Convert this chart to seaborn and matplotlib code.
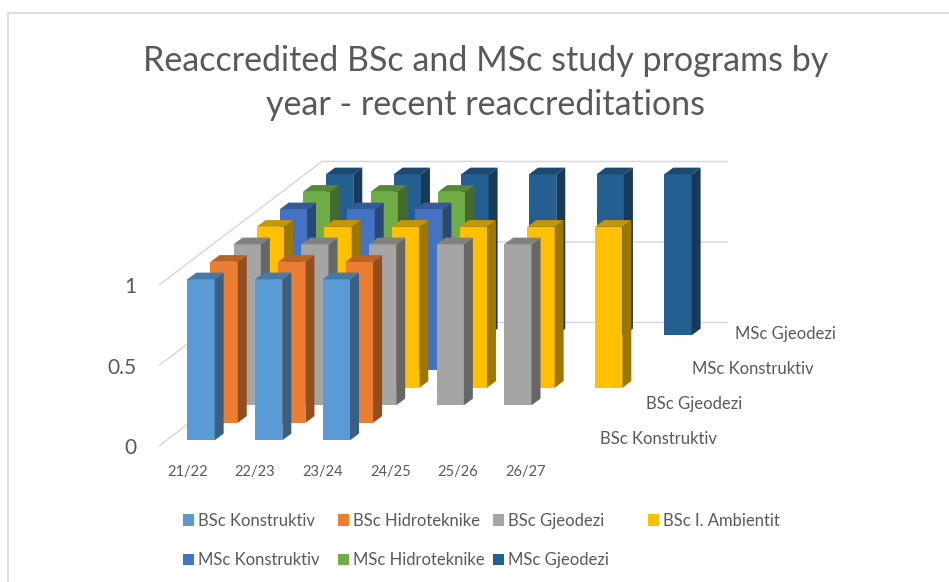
import numpy as np
import pandas as pd
import matplotlib
matplotlib.use("Agg")
import matplotlib.pyplot as plt
from matplotlib.lines import Line2D
from matplotlib.patches import Polygon, Patch
import seaborn as sns

# ---- data ----
title = "Reaccredited BSc and MSc study programs by\nyear - recent reaccreditations"
years = ["21/22", "22/23", "23/24", "24/25", "25/26", "26/27"]
nan = float("nan")
bsc_konstruktiv = [1, 1, 1, nan, nan, nan]
bsc_hidroteknike = [1, 1, 1, nan, nan, nan]
bsc_gjeodezi = [1, 1, 1, 1, 1, nan]
bsc_ambientit = [1, 1, 1, 1, 1, 1]
msc_konstruktiv = [1, 1, 1, nan, nan, nan]
msc_hidroteknike = [1, 1, 1, nan, nan, nan]
msc_gjeodezi = [1, 1, 1, 1, 1, 1]
series_names = ["BSc Konstruktiv", "BSc Hidroteknike", "BSc Gjeodezi", "BSc I. Ambientit",
                "MSc Konstruktiv", "MSc Hidroteknike", "MSc Gjeodezi"]
series_values = [bsc_konstruktiv, bsc_hidroteknike, bsc_gjeodezi, bsc_ambientit,
                 msc_konstruktiv, msc_hidroteknike, msc_gjeodezi]
colors = ["#5B9BD5", "#ED7D31", "#A5A5A5", "#FFC000", "#4472C4", "#70AD47", "#255E91"]
yticks = [0, 0.5, 1]

# ---- geometry (pixels of the 949x582 canvas) ----
W, H = 949, 582
PX_X, PX_Y = 67.67, 161.0        # pixels per category / per unit value
DEPTH_X, DEPTH_Y = 23.1, 17.5    # oblique shift per series row
Y0 = 446.0                       # value 0 at the front floor edge
X0 = 159.0                       # front floor corner
BAR_W, SIDE_X, SIDE_Y = 27.3, 9.0, 6.7
LEFT = 142.0
GAP = 0.325                      # floor margin before the first row
BACK = 7.06                      # floor depth in rows
CENTER0 = 201.0                  # centre of first bar, first row

def shade(c, f):
    return tuple(v * f for v in matplotlib.colors.to_rgb(c))

def ox(depth):
    return (depth - GAP) * DEPTH_X / PX_X

def oy(depth):
    return depth * DEPTH_Y / PX_Y

sns.set_theme(style="white")
plt.rcParams["font.family"] = ["Lato", "DejaVu Sans"]
TXT = "#595959"
GRID = "#D9D9D9"

fig = plt.figure(figsize=(W / 100, H / 100), dpi=100)
ax = fig.add_axes([LEFT / W, 0, 1 - LEFT / W, 1])
ax.patch.set_alpha(0)

dx = SIDE_X / PX_X
dy = SIDE_Y / PX_Y

# walls: x in category units measured from CENTER0, y in value units
fx = (X0 - CENTER0) / PX_X
for v in yticks:
    xs = [fx, fx + BACK * DEPTH_X / PX_X, (727.7 - CENTER0) / PX_X]
    ys = [v, v + BACK * DEPTH_Y / PX_Y, v + BACK * DEPTH_Y / PX_Y]
    ax.plot(xs, ys, color=GRID, lw=1.1, zorder=0.5, solid_capstyle="butt")

# rows from back to front
for s in range(len(series_names) - 1, -1, -1):
    depth = s + GAP
    df = pd.DataFrame({"pos": np.arange(len(years)) + ox(depth),
                       "value": series_values[s]}).dropna()
    n_before = len(ax.containers)
    sns.barplot(data=df, x="pos", y="value", native_scale=True, color=colors[s],
                saturation=1, width=BAR_W / PX_X, errorbar=None, ax=ax,
                bottom=oy(depth), linewidth=0)
    for rect in list(ax.containers[n_before]):
        x0, y0 = rect.get_x(), rect.get_y()
        w, h = rect.get_width(), rect.get_height()
        x1, y1 = x0 + w, y0 + h
        ax.add_patch(Polygon([(x1, y0), (x1 + dx, y0 + dy), (x1 + dx, y1 + dy), (x1, y1)],
                             closed=True, fc=shade(colors[s], 0.62), lw=0))
        ax.add_patch(Polygon([(x0, y1), (x1, y1), (x1 + dx, y1 + dy), (x0 + dx, y1 + dy)],
                             closed=True, fc=shade(colors[s], 0.78), lw=0))

ax.set_xlim((LEFT - CENTER0) / PX_X, (W - CENTER0) / PX_X)
ax.set_ylim((Y0 - H) / PX_Y, Y0 / PX_Y)
ax.set_xlabel("")
ax.set_ylabel("")
for name, sp in ax.spines.items():
    sp.set_visible(False)

ax.set_yticks(yticks, ["0", "0.5", "1"])
ax.tick_params(axis="y", length=0, pad=4, labelsize=15, labelcolor=TXT)
ax.spines["bottom"].set_position(("data", (Y0 - 464) / PX_Y))
ax.set_xticks(np.arange(len(years)) - 0.2, years)
ax.tick_params(axis="x", length=0, pad=1, labelsize=10.5, labelcolor=TXT)

# depth axis labels
for s in [0, 2, 4, 6]:
    ax.text((600 + DEPTH_X * s - CENTER0 - (4 if s == 6 else 0)) / PX_X,
            (Y0 - (439.5 - DEPTH_Y * s)) / PX_Y,
            series_names[s], fontsize=12, color=TXT, ha="left", va="center")

# title
ax.set_title(title, x=(486 - LEFT) / (W - LEFT), y=1 - 115 / H, fontsize=24.5,
             color=TXT, linespacing=1.48, pad=0)

# legend columns
col_x = [183, 338, 493, 648]
cols = [[0, 4], [1, 5], [2, 6], [3]]
for cx, idxs in zip(col_x, cols):
    handles = [Patch(fc=colors[i], lw=0) for i in idxs]
    labels = [series_names[i] for i in idxs]
    leg = ax.legend(handles, labels, loc="upper left", frameon=False, fontsize=12,
                    bbox_to_anchor=(cx / W, 1 - 513 / H), bbox_transform=fig.transFigure,
                    borderpad=0, borderaxespad=0, handlelength=0.68, handleheight=0.68,
                    handletextpad=0.2, labelspacing=1.4, labelcolor=TXT)
    ax.add_artist(leg)
    ax.legend_ = None

# chart frame (running off the canvas to the right and below)
for xs, ys in [([8, 8], [H, 13]), ([8, W], [13, 13])]:
    fig.add_artist(Line2D([x / W for x in xs], [1 - y / H for y in ys],
                          color="#DEDEDE", lw=1.5, transform=fig.transFigure))

fig.savefig("out.png", dpi=100)
